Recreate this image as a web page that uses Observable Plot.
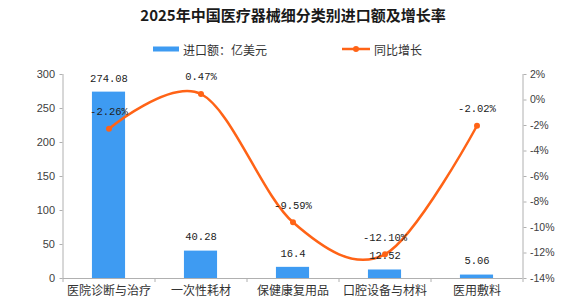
<!DOCTYPE html>
<html>
<head>
<meta charset="utf-8">
<script src="https://cdn.jsdelivr.net/npm/d3@7"></script>
<script src="https://cdn.jsdelivr.net/npm/@observablehq/plot@0.6"></script>
<style>
  html, body { margin: 0; padding: 0; background: #fff; }
  #wrap { width: 586px; height: 300px; position: relative; overflow: hidden; }
  #title { height: 30px; line-height: 30px; text-align: center; font-family: "Noto Sans CJK SC"; font-weight: 700; font-size: 15px; color: #1a1a1a; }
  #legend { height: 38px; position: relative; font-family: "Noto Sans CJK SC"; font-size: 12px; color: #333; }
  .item { position: absolute; top: 0; height: 38px; display: flex; align-items: center; }
  svg { display: block; }
</style>
</head>
<body>
<div id="wrap">
  <div id="title">2025年中国医疗器械细分类别进口额及增长率</div>
  <div id="legend">
    <div class="item" style="left:153px">
      <svg width="27" height="10"><rect x="0" y="2.5" width="26" height="5" fill="#3E9BF2"></rect></svg>
      <span style="margin-left:3px">进口额：亿美元</span>
    </div>
    <div class="item" style="left:342px">
      <svg width="29" height="10"><line x1="0" y1="5" x2="28" y2="5" stroke="#FF6316" stroke-width="2.5"></line><circle cx="14" cy="5" r="3" fill="#FF6316"></circle></svg>
      <span style="margin-left:3px">同比增长</span>
    </div>
  </div>
  <div id="chart"></div>
</div>
<script>
const categories = ["医院诊断与治疗", "一次性耗材", "保健康复用品", "口腔设备与材料", "医用敷料"];
const imports = [274.08, 40.28, 16.4, 12.52, 5.06];
const importLabels = ["274.08", "40.28", "16.4", "12.52", "5.06"];
const growth = [-2.26, 0.47, -9.59, -12.10, -2.02];
const leftTicks = [0, 50, 100, 150, 200, 250, 300];
const rightTicks = [2, 0, -2, -4, -6, -8, -10, -12, -14];

const blue = "#3E9BF2";
const orange = "#FF6316";
const axisGrey = "#b0b0b0";

// map percentage axis (-14%..2%) onto the left axis domain (0..300)
const toLeft = p => (p + 14) * 300 / 16;
const fromLeft = v => Math.round(v * 16 / 300 - 14);

const rows = categories.map((c, i) => ({c, i, imp: imports[i], impLabel: importLabels[i], g: growth[i]}));

const chart = Plot.plot({
  width: 586,
  height: 232,
  marginTop: 6,
  marginBottom: 22,
  marginLeft: 62.5,
  marginRight: 63.5,
  x: {domain: [0, categories.length], axis: null},
  y: {domain: [0, 300], axis: null},
  style: {fontFamily: "Liberation Sans", fontSize: "10.5px", color: "#404040", background: "#fff"},
  marks: [
    Plot.rectY(rows, {x1: d => d.i + 0.32, x2: d => d.i + 0.68, y: "imp", fill: blue}),
    Plot.ruleY([0], {stroke: axisGrey}),
    Plot.ruleX([0, categories.length], {y1: 0, y2: 300, stroke: axisGrey}),
    Plot.axisY({anchor: "left", label: null, ticks: leftTicks, tickSize: 3, tickPadding: 5, stroke: axisGrey, fontSize: 11}),
    Plot.axisY({anchor: "right", label: null, ticks: rightTicks.map(toLeft), tickSize: 3, tickPadding: 4, stroke: axisGrey,
      tickFormat: v => fromLeft(v) + "%", fontSize: 10.5}),
    Plot.axisX({anchor: "bottom", label: null, ticks: d3.range(categories.length + 1), tickSize: 4, tickFormat: () => "", stroke: axisGrey}),
    Plot.axisX({anchor: "bottom", label: null, ticks: categories.map((c, i) => i + 0.5), tickSize: 0, tickPadding: 8,
      tickFormat: v => categories[Math.floor(v)], fontFamily: "Noto Sans CJK SC", fontSize: 12, fill: "#333"}),
    Plot.line(rows, {x: d => d.i + 0.5, y: d => toLeft(d.g), stroke: orange, strokeWidth: 2.5, curve: "cardinal"}),
    Plot.dot(rows, {x: d => d.i + 0.5, y: d => toLeft(d.g), r: 3, fill: orange}),
    Plot.text(rows, {x: d => d.i + 0.5, y: "imp", text: "impLabel", dy: -14, fontFamily: "Liberation Mono", fontSize: 10.5, fill: "#222"}),
    Plot.text(rows, {x: d => d.i + 0.5, y: d => toLeft(d.g), text: d => d.g.toFixed(2) + "%", dy: -17, fontFamily: "Liberation Mono", fontSize: 10.5, fill: "#222"})
  ]
});
document.getElementById("chart").appendChild(chart);
</script>
</body>
</html>
